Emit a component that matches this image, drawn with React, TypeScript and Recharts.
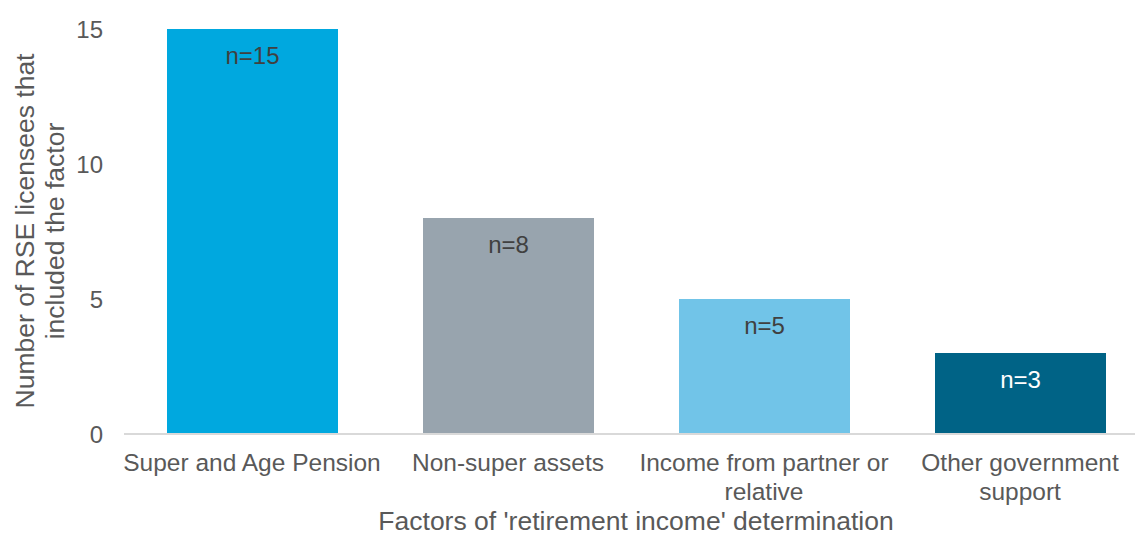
import { BarChart, Bar, XAxis, YAxis, Cell, LabelList } from "recharts";

const categories = [
  "Super and Age Pension",
  "Non-super assets",
  "Income from partner or relative",
  "Other government support",
];
const tickLines = [
  ["Super and Age Pension"],
  ["Non-super assets"],
  ["Income from partner or", "relative"],
  ["Other government", "support"],
];
const counts = [15, 8, 5, 3];
const barColors = ["#00A8DF", "#98A4AE", "#71C4E8", "#006386"];
const labelColors = ["#404040", "#404040", "#404040", "#FFFFFF"];
const yTicks = [0, 5, 10, 15];

const data = categories.map((name, i) => ({ name, count: counts[i], label: `n=${counts[i]}` }));

const FONT = "'Liberation Sans', Arial, sans-serif";
const GREY = "#595959";

const CategoryTick = (props: any) => {
  const { x, y, index } = props;
  const lines = tickLines[index] || [];
  return (
    <g>
      {lines.map((line, i) => (
        <text
          key={i}
          x={x}
          y={y + 29 + i * 29}
          textAnchor="middle"
          fill={GREY}
          fontSize={24.5}
          fontFamily={FONT}
        >
          {line}
        </text>
      ))}
    </g>
  );
};

const App = () => {
  return (
    <div style={{ width: 1135, height: 536, overflow: "hidden", position: "relative" }}>
      <style>{"body{margin:0}"}</style>
      <BarChart
        width={1149}
        height={536}
        data={data}
        margin={{ top: 29, right: 1, bottom: 0, left: 0 }}
        barSize={171}
      >
        <XAxis
          dataKey="name"
          height={102}
          axisLine={{ stroke: "#D9D9D9", strokeWidth: 2 }}
          tickLine={false}
          interval={0}
          tick={<CategoryTick />}
          label={{
            content: (p: any) => (
              <text
                x={p.viewBox.x + p.viewBox.width / 2}
                y={530}
                textAnchor="middle"
                fill={GREY}
                fontSize={26.5}
                fontFamily={FONT}
              >
                Factors of 'retirement income' determination
              </text>
            ),
          }}
        />
        <YAxis
          width={124}
          domain={[0, 15]}
          ticks={yTicks}
          axisLine={false}
          tickLine={false}
          tickSize={0}
          tickMargin={21}
          tick={{ fill: GREY, fontSize: 24, fontFamily: FONT }}
          label={{
            content: () => (
              <g transform="translate(40,231) rotate(-90)">
                <text x={0} y={-15} textAnchor="middle" dominantBaseline="central" fill={GREY} fontSize={26.5} fontFamily={FONT}>
                  Number of RSE licensees that
                </text>
                <text x={0} y={15} textAnchor="middle" dominantBaseline="central" fill={GREY} fontSize={26.5} fontFamily={FONT}>
                  included the factor
                </text>
              </g>
            ),
          }}
        />
        <Bar dataKey="count" isAnimationActive={false}>
          {data.map((d, i) => (
            <Cell key={d.name} fill={barColors[i]} />
          ))}
          <LabelList
            dataKey="label"
            content={(p: any) => (
              <text
                x={p.x + p.width / 2}
                y={p.y + 26}
                textAnchor="middle"
                dominantBaseline="central"
                fill={labelColors[p.index]}
                fontSize={24}
                fontFamily={FONT}
              >
                {p.value}
              </text>
            )}
          />
        </Bar>
      </BarChart>
    </div>
  );
};

export default App;
